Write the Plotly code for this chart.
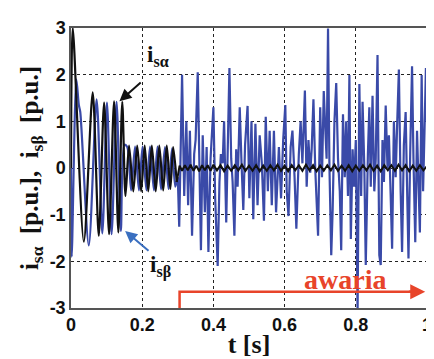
import plotly.graph_objects as go

# i_s_alpha (black) vertices
alpha_t = [0.000, 0.005, 0.036, 0.061, 0.078, 0.093, 0.107, 0.121, 0.133, 0.144,
           0.153, 0.163, 0.175, 0.186, 0.197, 0.207, 0.217, 0.227, 0.238, 0.248,
           0.259, 0.269, 0.279, 0.287, 0.297,
           0.305, 0.312, 0.320, 0.328, 0.336, 0.344, 0.352, 0.360, 0.368, 0.376,
           0.384, 0.392, 0.400, 0.410, 0.420, 0.430, 0.440, 0.450, 0.460, 0.470,
           0.480, 0.490, 0.500, 0.510, 0.520, 0.530, 0.540, 0.550, 0.560, 0.570,
           0.580, 0.590, 0.600, 0.610, 0.620, 0.630, 0.640, 0.650, 0.660, 0.670,
           0.680, 0.690, 0.700, 0.710, 0.720, 0.730, 0.740, 0.750, 0.760, 0.770,
           0.780, 0.790, 0.800, 0.810, 0.820, 0.830, 0.840, 0.850, 0.860, 0.870,
           0.880, 0.890, 0.900, 0.910, 0.920, 0.930, 0.940, 0.950, 0.960, 0.970,
           0.980, 0.990, 1.000]
alpha_v = [0.0, 3.0, -1.58, 1.62, -1.45, 1.40, -1.42, 1.43, -1.38, 1.42,
           -0.60, 0.48, -0.50, 0.48, -0.50, 0.48, -0.50, 0.48, -0.50, 0.48,
           -0.48, 0.48, -0.45, 0.45, -0.30,
           0.05, -0.06, 0.06, -0.05, 0.07, -0.06, 0.05, -0.07, 0.06, -0.05,
           0.06, -0.06, 0.07, -0.05, 0.06, -0.07, 0.05, -0.06, 0.06, -0.05,
           0.07, -0.06, 0.05, -0.06, 0.06, -0.07, 0.05, -0.06, 0.06, -0.05,
           0.07, -0.06, 0.05, -0.07, 0.06, -0.05, 0.06, -0.06, 0.07, -0.05,
           0.06, -0.07, 0.05, -0.06, 0.06, -0.05, 0.07, -0.06, 0.05, -0.06,
           0.06, -0.07, 0.05, -0.06, 0.06, -0.05, 0.07, -0.06, 0.05, -0.07,
           0.06, -0.05, 0.06, -0.06, 0.07, -0.05, 0.06, -0.07, 0.05, -0.06,
           0.06, -0.05, 0.04]

# i_s_beta (blue) vertices
beta_t = [0.000, 0.002, 0.015, 0.022, 0.026, 0.050, 0.072, 0.088, 0.101, 0.114,
          0.128, 0.140, 0.150, 0.158, 0.169, 0.180, 0.191, 0.201, 0.212, 0.222,
          0.233, 0.243, 0.253, 0.264, 0.274, 0.284, 0.293, 0.300,
          0.304, 0.312, 0.318, 0.324, 0.329, 0.334, 0.340, 0.346, 0.350, 0.356,
          0.361, 0.365, 0.370, 0.376, 0.381, 0.386, 0.392, 0.397, 0.400, 0.405,
          0.412, 0.417, 0.421, 0.426, 0.430, 0.436, 0.440, 0.445, 0.450, 0.454,
          0.459, 0.464, 0.468, 0.474, 0.479, 0.484, 0.489, 0.496, 0.501, 0.507,
          0.512, 0.518, 0.524, 0.530, 0.536, 0.542, 0.547, 0.553, 0.558, 0.564,
          0.570, 0.576, 0.584, 0.590, 0.596, 0.602, 0.606, 0.611, 0.617, 0.622,
          0.628, 0.633, 0.640, 0.645, 0.650, 0.657, 0.662, 0.667, 0.672, 0.676,
          0.681, 0.686, 0.694, 0.700, 0.705, 0.710, 0.714, 0.718, 0.722, 0.726,
          0.731, 0.735, 0.740, 0.745, 0.750, 0.755, 0.759, 0.764, 0.769, 0.773,
          0.778, 0.782, 0.786, 0.791, 0.795, 0.800, 0.805, 0.810, 0.815, 0.819,
          0.824, 0.828, 0.834, 0.838, 0.842, 0.847, 0.852, 0.856, 0.861, 0.866,
          0.870, 0.875, 0.879, 0.884, 0.889, 0.893, 0.898, 0.902, 0.907, 0.912,
          0.916, 0.921, 0.926, 0.930, 0.935, 0.940, 0.944, 0.948, 0.953, 0.958,
          0.962, 0.967, 0.972, 0.976, 0.980, 0.985, 0.989, 0.993, 0.997, 1.000]
beta_v = [0.0, -1.90, 1.90, 1.35, 1.20, -1.66, 1.47, -1.40, 1.40, -1.42,
          1.42, -1.35, 0.50, 0.45, -0.48, 0.46, -0.48, 0.46, -0.48, 0.46,
          -0.48, 0.46, -0.46, 0.45, -0.45, 0.42, -0.40, -0.20,
          -1.26, 2.00, -0.60, 1.00, -0.80, 0.80, -1.45, 0.30, 0.60, 2.05,
          -0.40, -1.76, 0.70, -0.95, 0.45, -1.80, 0.20, 0.90, 1.30, -0.65,
          -2.10, -0.30, 0.30, 0.10, 1.00, -1.17, 0.50, 2.14, 0.20, -0.30,
          -1.45, 0.40, -0.40, 1.30, 0.10, -0.90, 0.50, 1.33, -0.65, 1.00,
          -1.10, 0.95, -0.80, 0.70, 0.10, -1.13, 1.10, -0.50, 0.80, -0.80,
          0.80, -0.95, 0.45, -0.65, 0.60, 1.35, -0.50, -1.03, 0.45, 0.80,
          -0.20, -1.30, 0.30, 1.00, 0.10, 1.66, -0.40, 0.60, -0.10, 0.40,
          1.47, 0.00, -1.45, 1.30, -0.20, 1.65, 0.90, 0.20, 2.99, 0.00,
          -1.87, -0.90, 1.00, 1.82, 0.20, -0.50, -1.76, 1.15, -0.20, 1.00,
          -0.60, 1.99, -1.52, 0.40, -0.40, 0.60, -3.10, 1.80, -0.60, 1.42,
          0.00, -2.08, 0.30, 1.30, -0.40, 1.55, -0.50, 0.20, 2.42, -1.87,
          -2.08, 0.60, -0.30, 1.34, 0.00, 0.70, -0.60, -1.73, 1.00, -0.20,
          0.90, 2.11, -0.50, -1.80, 0.50, 1.20, -0.40, -1.94, 0.40, 2.18,
          0.20, -1.59, 0.80, -0.30, -1.38, 1.99, -0.50, 0.80, 2.14, 1.00]

x_ticks = [0, 0.2, 0.4, 0.6, 0.8, 1]
x_labels = ["0", "0.2", "0.4", "0.6", "0.8", "1"]
y_ticks = [-3, -2, -1, 0, 1, 2, 3]
y_labels = ["-3", "-2", "-1", "0", "1", "2", "3"]

fault_start = 0.305
fault_end = 0.995
fault_level = -2.65
transient_end = 0.3   # startup transient drawn smooth, fault part drawn as raw segments

RED = "#e8442a"
BLUE = "#3a4aa8"
BLACK = "#111111"


def split(ts, vs, t_split):
    a = [(t, v) for t, v in zip(ts, vs) if t <= t_split]
    b = [(t, v) for t, v in zip(ts, vs) if t >= a[-1][0]]
    return [p[0] for p in a], [p[1] for p in a], [p[0] for p in b], [p[1] for p in b]


bt1, bv1, bt2, bv2 = split(beta_t, beta_v, transient_end)
at1, av1, at2, av2 = split(alpha_t, alpha_v, transient_end)

fig = go.Figure()
fig.add_trace(go.Scatter(x=bt1, y=bv1, mode="lines",
                         line=dict(color=BLUE, width=2.2, shape="spline", smoothing=0.8),
                         showlegend=False))
fig.add_trace(go.Scatter(x=bt2, y=bv2, mode="lines",
                         line=dict(color=BLUE, width=2.2), showlegend=False))
fig.add_trace(go.Scatter(x=at1, y=av1, mode="lines",
                         line=dict(color=BLACK, width=2.2, shape="spline", smoothing=0.8),
                         showlegend=False))
fig.add_trace(go.Scatter(x=at2, y=av2, mode="lines",
                         line=dict(color=BLACK, width=2), showlegend=False))
# fault marker line
fig.add_trace(go.Scatter(x=[fault_start, fault_start, fault_end - 0.02],
                         y=[-3, fault_level, fault_level], mode="lines",
                         line=dict(color=RED, width=2.5), showlegend=False))
fig.add_annotation(x=fault_end, y=fault_level, ax=fault_end - 0.05, ay=fault_level,
                   xref="x", yref="y", axref="x", ayref="y", text="",
                   showarrow=True, arrowhead=2, arrowsize=1.2, arrowwidth=2.5,
                   arrowcolor=RED)
fig.add_annotation(x=0.77, y=-2.38, xref="x", yref="y", text="awaria",
                   showarrow=False,
                   font=dict(family="Liberation Serif", size=28, color=RED, weight="bold"))

# series labels with arrows
fig.add_annotation(x=0.136, y=1.43, ax=0.2, ay=1.86, xref="x", yref="y",
                   axref="x", ayref="y", text="", showarrow=True, arrowhead=2,
                   arrowsize=1.2, arrowwidth=2, arrowcolor=BLACK)
fig.add_annotation(x=0.245, y=2.4, xref="x", yref="y",
                   text="i<sub>sα</sub>", showarrow=False,
                   font=dict(family="Liberation Serif", size=23, color=BLACK, weight="bold"))
fig.add_annotation(x=0.152, y=-1.35, ax=0.222, ay=-1.8, xref="x", yref="y",
                   axref="x", ayref="y", text="", showarrow=True, arrowhead=2,
                   arrowsize=1.2, arrowwidth=2, arrowcolor="#3a6fc0")
fig.add_annotation(x=0.25, y=-2.1, xref="x", yref="y",
                   text="i<sub>sβ</sub>", showarrow=False,
                   font=dict(family="Liberation Serif", size=23, color=BLACK, weight="bold"))

axis_common = dict(showgrid=True, gridcolor="#222222", griddash="dot", gridwidth=1,
                   showline=True, linecolor="#555555", linewidth=1.5, mirror=True,
                   zeroline=False, ticks="",
                   tickfont=dict(family="Liberation Sans", size=18, color=BLACK,
                                 weight="bold"))
nb = "\u00a0"
fig.update_xaxes(range=[0, 1], tickvals=x_ticks, ticktext=x_labels,
                 title=dict(text=f"t{nb}[s]", standoff=0,
                            font=dict(family="Liberation Serif", size=26, color=BLACK,
                                      weight="bold")),
                 **axis_common)
fig.update_yaxes(range=[-3, 3], tickvals=y_ticks, ticktext=y_labels,
                 title=dict(text=f"i<sub>sα</sub>{nb}{nb}[p.u.],{nb}{nb}i<sub>sβ</sub>{nb}{nb}[p.u.]",
                            standoff=4,
                            font=dict(family="Liberation Serif", size=25, color=BLACK,
                                      weight="bold")),
                 **axis_common)
fig.update_layout(width=434, height=359, margin=dict(l=63, r=10, t=16, b=59),
                  paper_bgcolor="white", plot_bgcolor="white")
fig.write_html("out.html")
